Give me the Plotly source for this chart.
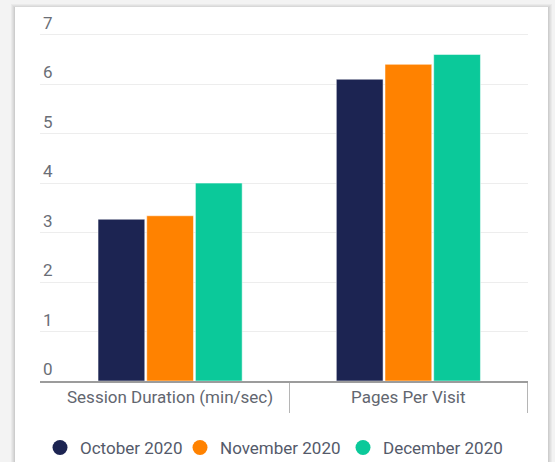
import plotly.graph_objects as go

# Monthly engagement metrics
categories = ["Session Duration (min/sec)", "Pages Per Visit"]
months = ["October 2020", "November 2020", "December 2020"]
october = [3.27, 6.10]
november = [3.34, 6.40]
december = [4.00, 6.60]
y_ticks = [0, 1, 2, 3, 4, 5, 6, 7]

colors = ["#1c2452", "#ff8200", "#0bc99a"]
series = [october, november, december]

W, H = 555, 462
ML, MR, MT, MB = 40, 27, 5, 81
PW, PH = W - ML - MR, H - MT - MB
Y_TOP = 7.6

# left edge of each legend entry (px)
legend_left = [40, 180, 343]
legend_names = ["legend", "legend2", "legend3"]


def px_x(x):
    return (x - ML) / PW


def px_y(y):
    return (H - MB - y) / PH


fig = go.Figure()

for name, vals, col, lg in zip(months, series, colors, legend_names):
    fig.add_trace(go.Bar(
        x=categories, y=vals, name=name,
        marker=dict(color=col, line=dict(color="white", width=0.5)),
        showlegend=False, hoverinfo="skip",
    ))
    # round legend marker
    fig.add_trace(go.Scatter(
        x=[None], y=[None], mode="markers", name=name, legend=lg,
        marker=dict(color=col, size=15, symbol="circle"),
        showlegend=True,
    ))

shapes = []
# card shadow and card
for i, op in enumerate([0.035, 0.035, 0.04, 0.05]):
    d = 4 - i
    shapes.append(dict(
        type="rect", xref="paper", yref="paper", layer="below",
        x0=px_x(15 - d), x1=px_x(548 + d), y0=px_y(480), y1=px_y(7 - d + 1),
        fillcolor=f"rgba(0,0,0,{op})", line=dict(width=0),
    ))
shapes.append(dict(
    type="rect", xref="paper", yref="paper", layer="below",
    x0=px_x(15), x1=px_x(548), y0=px_y(480), y1=px_y(7),
    fillcolor="white", line=dict(width=0),
))

annotations = [
    dict(x=c, y=px_y(397), xref="x", yref="paper", text=c, showarrow=False,
         xanchor="center", yanchor="middle",
         font=dict(family="Roboto", size=17, color="#62666f"))
    for c in categories
]

legend_style = dict(
    orientation="h", xref="container", yref="container",
    y=1 - 448 / H, xanchor="left", yanchor="middle",
    font=dict(family="Roboto", size=17, color="#545a6a"),
    bgcolor="rgba(0,0,0,0)", itemclick=False,
)

fig.update_layout(
    width=W, height=H,
    margin=dict(l=ML, r=MR, t=MT, b=MB),
    paper_bgcolor="#f3f3f3",
    plot_bgcolor="rgba(0,0,0,0)",
    barmode="group",
    bargap=0.387,
    bargroupgap=0.04,
    shapes=shapes,
    annotations=annotations,
    font=dict(family="Roboto", size=17, color="#62666f"),
    legend=dict(x=legend_left[0] / W, **legend_style),
    legend2=dict(x=legend_left[1] / W, **legend_style),
    legend3=dict(x=legend_left[2] / W, **legend_style),
    xaxis=dict(
        type="category", range=[-0.546, 1.502],
        showgrid=False, zeroline=False,
        showline=True, linecolor="#9c9c9c", linewidth=2,
        tickson="boundaries", ticks="outside", ticklen=30,
        tickcolor="#b5b5b5", tickwidth=1,
        showticklabels=False,
    ),
    yaxis=dict(
        range=[0, Y_TOP], tickvals=y_ticks,
        showgrid=True, gridcolor="#ededed", gridwidth=1,
        zeroline=False, showline=False,
        ticklabelposition="inside top",
        tickfont=dict(family="Roboto", size=17, color="#6a6e76"),
    ),
)

fig.write_html("out.html")
